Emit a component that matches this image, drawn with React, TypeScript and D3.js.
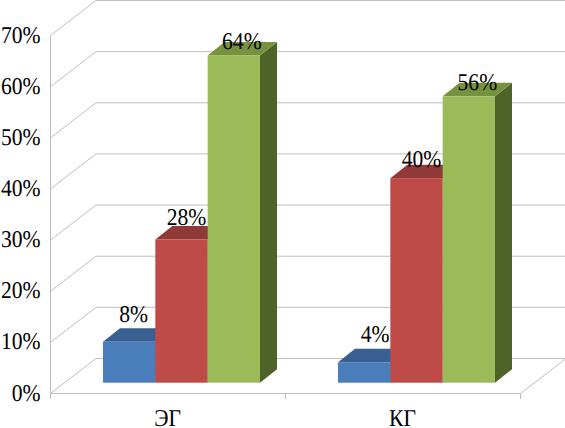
import React from "react";
import * as d3 from "d3";

const categories = ["ЭГ", "КГ"];
const seriesNames = ["a", "b", "c"];
const seriesA = [8, 4];
const seriesB = [28, 40];
const seriesC = [64, 56];
const axisTicks = [0, 10, 20, 30, 40, 50, 60, 70];

const seriesValues = [seriesA, seriesB, seriesC];
const frontColors = ["#4a7ebb", "#be4b48", "#9bbb59"];
const topColors = ["#386192", "#8f3a38", "#76923f"];
const sideColors = ["#2f5080", "#7a2f2d", "#4f6228"];

// label nudges [dx, baseline gap above the bar top] per series/category
const labelNudge = [
  [[4.5, 20], [11, 20]],
  [[5, 15], [5, 11]],
  [[8, 6.5], [8.5, 6.7]],
];

const W = 565, H = 428;
const DEPTH_X = 45.5, DEPTH_Y = 35;
const BAR_DX = 17, BAR_DY = 13.5;
const GRID = "#bdbdbd";
const FONT = "'Liberation Serif', 'Times New Roman', serif";
const TEXT_SQUEEZE = 0.9;

const pts = (p: number[][]) => p.map((q) => q.join(",")).join(" ");

function Label(props: { x: number; y: number; anchor: string; children: React.ReactNode }) {
  return (
    <text
      transform={`translate(${props.x},${props.y}) scale(${TEXT_SQUEEZE},1)`}
      textAnchor={props.anchor}
      fontSize={24}
      fill="#000"
      textRendering="geometricPrecision"
    >
      {props.children}
    </text>
  );
}

export default function App() {
  const y = d3.scaleLinear().domain([0, 70]).range([393.5, 35.5]);
  const yBar = d3.scaleLinear().domain([0, 70]).range([382.7, 24.7]);
  const x = d3.scaleBand().domain(categories).range([50.5, 520.5]);
  const inner = d3.scaleBand().domain(seriesNames).range([0, 157]);
  const barOffset = x.bandwidth() / 2 + 13.5 - 78.5;
  return (
    <svg
      width={W}
      height={H}
      style={{ position: "fixed", left: 0, top: 0, background: "#fff" }}
      fontFamily={FONT}
    >
      {axisTicks.map((t) => (
        <g key={t} stroke={GRID} strokeWidth={1} fill="none">
          <line x1={50.5} x2={50.5 + DEPTH_X} y1={y(t)} y2={y(t) - DEPTH_Y} />
          <line x1={50.5 + DEPTH_X} x2={W} y1={y(t) - DEPTH_Y} y2={y(t) - DEPTH_Y} />
        </g>
      ))}
      <g stroke={GRID} strokeWidth={1} fill="none">
        <line x1={50.5} x2={50.5} y1={y(70)} y2={399} />
        <line x1={50.5} x2={520.5} y1={y(0)} y2={y(0)} />
        <line x1={520.5} x2={520.5 + DEPTH_X} y1={y(0)} y2={y(0) - DEPTH_Y} />
        {[...categories, "end"].map((c, i) => {
          const tx = 50.5 + i * x.bandwidth();
          return <line key={c} x1={tx} x2={tx} y1={y(0)} y2={399} />;
        })}
      </g>
      {axisTicks.map((t) => (
        <Label key={t} x={40.5} y={y(t) + 7} anchor="end">
          {t}%
        </Label>
      ))}
      {categories.map((c) => (
        <Label key={c} x={(x(c) as number) + x.bandwidth() / 2 - 0.5} y={426} anchor="middle">
          {c}
        </Label>
      ))}
      {categories.map((c, ci) => (
        <g key={c}>
          {seriesNames.map((s, si) => {
            const v = seriesValues[si][ci];
            const x0 = (x(c) as number) + barOffset + (inner(s) as number);
            const x1 = x0 + inner.bandwidth();
            const top = yBar(v);
            const base = yBar(0);
            const [ldx, lgap] = labelNudge[si][ci];
            return (
              <g key={s}>
                <polygon
                  points={pts([[x1, top], [x1 + BAR_DX, top - BAR_DY], [x1 + BAR_DX, base - BAR_DY], [x1, base]])}
                  fill={sideColors[si]}
                />
                <polygon
                  points={pts([[x0, top], [x0 + BAR_DX, top - BAR_DY], [x1 + BAR_DX, top - BAR_DY], [x1, top]])}
                  fill={topColors[si]}
                />
                <rect x={x0} y={top} width={x1 - x0} height={base - top} fill={frontColors[si]} />
                <Label x={(x0 + x1) / 2 + ldx} y={top - lgap} anchor="middle">
                  {v}%
                </Label>
              </g>
            );
          })}
        </g>
      ))}
    </svg>
  );
}
